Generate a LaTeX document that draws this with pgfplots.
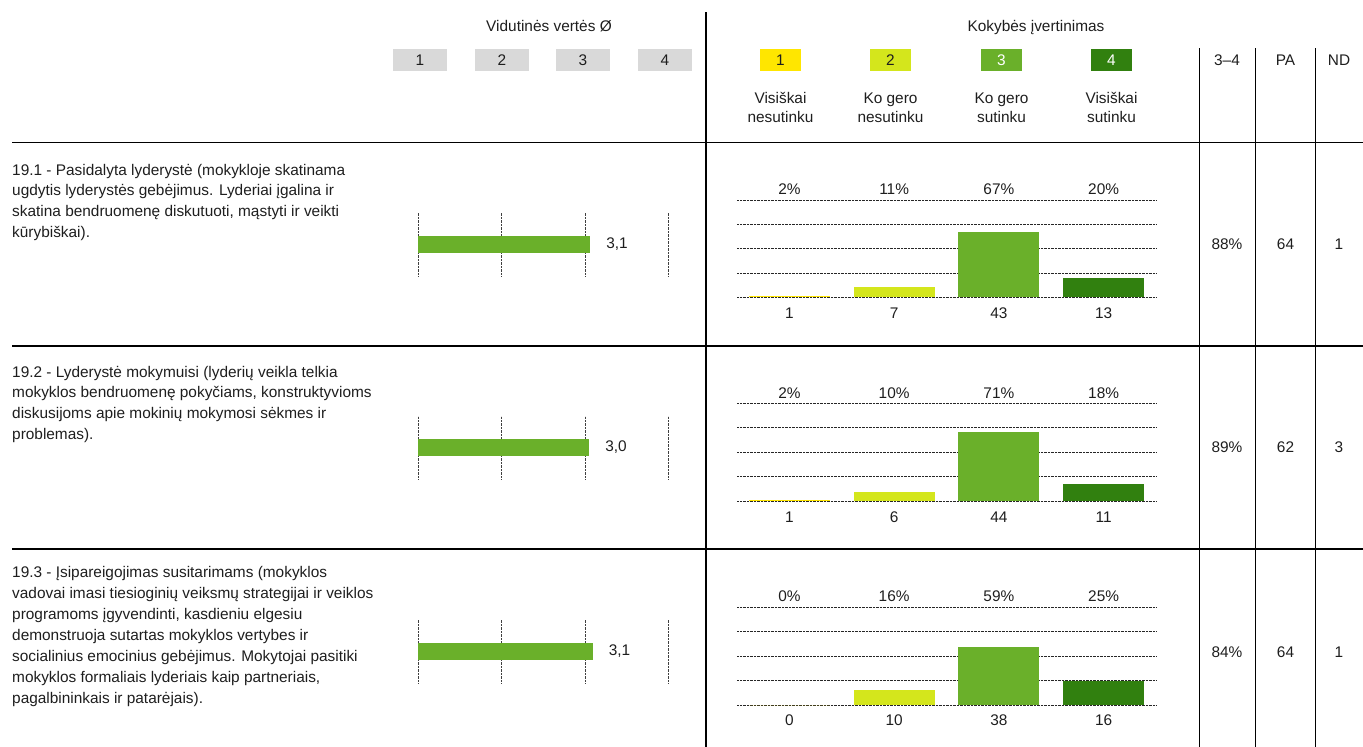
\documentclass[border=0pt]{standalone}
\usepackage{pgfplots}
\pgfplotsset{compat=1.18}
\usepackage{fontspec}
\setmainfont{Liberation Sans}
\definecolor{cA}{HTML}{FFE600}
\definecolor{cB}{HTML}{D4E61C}
\definecolor{cC}{HTML}{6AB02A}
\definecolor{cD}{HTML}{31800F}
\definecolor{gbox}{HTML}{D9D9D9}
\definecolor{txt}{HTML}{1E1E1E}
\newcommand\fnt{\fontsize{15.4}{20}\selectfont}
\newcommand\rowline[2]{\node[anchor=base west] at (12,#1) {#2};}
\pgfplotsset{
  meanax/.style={scale only axis, width=250.7pt, xmin=1, xmax=4, ymin=-1, ymax=1,
    axis line style={draw=none}, major tick length=0pt, xtick={1,2,3,4}, xticklabels={,,,}, ytick=\empty,
    xmajorgrids, major grid style={densely dotted, black!75, line width=0.9pt},
    /pgf/number format/fixed, /pgf/number format/fixed zerofill, /pgf/number format/precision=1,
    /pgf/number format/use comma, /pgf/number format/assume math mode=true},
  meanbar/.style={xbar, fill=cC, draw=none, bar width=17pt, bar shift=0pt,
    nodes near coords, nodes near coords style={anchor=west, xshift=16pt, font=\fnt, text=txt, inner sep=0pt}},
  freqax/.style={scale only axis, width=419pt, xmin=0.5, xmax=4.5, ymin=0, clip=false,
    axis line style={draw=none}, major tick length=0pt, xtick={1,2,3,4}, yticklabels={,,,,},
    ymajorgrids, major grid style={densely dotted, black!85, line width=0.8pt},
    xticklabel style={anchor=north, yshift=-10pt, font=\fnt, text=txt, inner sep=0pt}},
  fb/.style={ybar, bar width=81pt, bar shift=0pt, draw=none, fill=#1},
}
\begin{document}
\begin{tikzpicture}[x=1pt, y=-1pt, every node/.style={font=\fnt, text=txt, inner sep=0pt}]
\path (0,0) rectangle (1363,747);
% headers
\node[anchor=base] at (549,31) {Vidutinės vertės Ø};
\node[anchor=base] at (1036,31) {Kokybės įvertinimas};
\foreach \x/\n in {420/1,502/2,583/3,665/4}{
  \fill[gbox] (\x-27,49) rectangle (\x+27,71);
  \node at (\x,60) {\n};
}
\fill[cA] (760,49) rectangle (801,71); \node at (780.5,60) {1};
\fill[cB] (870,49) rectangle (911,71); \node at (890.5,60) {2};
\fill[cC] (981,49) rectangle (1022,71); \node[text=white] at (1001.5,60) {3};
\fill[cD] (1091,49) rectangle (1132,71); \node[text=white] at (1111.5,60) {4};
\node[anchor=base] at (780.5,103) {Visiškai};
\node[anchor=base] at (780.5,122.5) {nesutinku};
\node[anchor=base] at (890.5,103) {Ko gero};
\node[anchor=base] at (890.5,122.5) {nesutinku};
\node[anchor=base] at (1001.5,103) {Ko gero};
\node[anchor=base] at (1001.5,122.5) {sutinku};
\node[anchor=base] at (1111.5,103) {Visiškai};
\node[anchor=base] at (1111.5,122.5) {sutinku};
\node at (1227,60) {3–4};
\node at (1285.5,60) {PA};
\node at (1339,60) {ND};
% lines
\draw[line width=1.3pt] (706,12) -- (706,747);
\foreach \x in {1199.3,1255.3,1315.3}{\draw[line width=1.3pt] (\x,48) -- (\x,747);}
\foreach \y in {142.7,346,549}{\draw[line width=1.3pt] (12,\y) -- (1363,\y);}
% row texts
\rowline{175}{19.1 - Pasidalyta lyderystė (mokykloje skatinama}
\rowline{195.7}{ugdytis lyderystės gebėjimus. Lyderiai įgalina ir}
\rowline{216.4}{skatina bendruomenę diskutuoti, mąstyti ir veikti}
\rowline{237.1}{kūrybiškai).}
\rowline{377}{19.2 - Lyderystė mokymuisi (lyderių veikla telkia}
\rowline{397.7}{mokyklos bendruomenę pokyčiams, konstruktyvioms}
\rowline{418.4}{diskusijoms apie mokinių mokymosi sėkmes ir}
\rowline{439.1}{problemas).}
\rowline{577}{19.3 - Įsipareigojimas susitarimams (mokyklos}
\rowline{598}{vadovai imasi tiesioginių veiksmų strategijai ir veiklos}
\rowline{619}{programoms įgyvendinti, kasdieniu elgesiu}
\rowline{640}{demonstruoja sutartas mokyklos vertybes ir}
\rowline{661}{socialinius emocinius gebėjimus. Mokytojai pasitiki}
\rowline{682}{mokyklos formaliais lyderiais kaip partneriais,}
\rowline{703}{pagalbininkais ir patarėjais).}
% right columns
\foreach \y/\a/\b/\c in {244.3/88\%/64/1, 447.5/89\%/62/3, 651.7/84\%/64/1}{
  \node at (1227,\y) {\a};
  \node at (1285.5,\y) {\b};
  \node at (1339,\y) {\c};
}
% mean bars
\begin{axis}[meanax, at={(418pt,-276pt)}, anchor=south west, height=64pt]
\addplot[meanbar] coordinates {(3.06,0)};
\end{axis}
\begin{axis}[meanax, at={(418pt,-479pt)}, anchor=south west, height=63pt]
\addplot[meanbar] coordinates {(3.048,0)};
\end{axis}
\begin{axis}[meanax, at={(418pt,-683pt)}, anchor=south west, height=64pt]
\addplot[meanbar] coordinates {(3.09,0)};
\end{axis}
% frequency bars
\begin{axis}[freqax, at={(737pt,-297.3pt)}, anchor=south west, height=97.3pt, ymax=64, ytick distance=16, xticklabels={1,7,43,13}]
\addplot[fb=cA] coordinates {(1,1)};
\addplot[fb=cB] coordinates {(2,7)};
\addplot[fb=cC] coordinates {(3,43)};
\addplot[fb=cD] coordinates {(4,13)};
\foreach \i/\p in {1/2,2/11,3/67,4/20}{
  \edef\tmp{\noexpand\node[anchor=base, yshift=5.5pt] at (axis cs:\i,64) {\p\noexpand\%};}\tmp
}
\end{axis}
\begin{axis}[freqax, at={(737pt,-501.3pt)}, anchor=south west, height=98pt, ymax=62, ytick distance=15.5, xticklabels={1,6,44,11}]
\addplot[fb=cA] coordinates {(1,1)};
\addplot[fb=cB] coordinates {(2,6)};
\addplot[fb=cC] coordinates {(3,44)};
\addplot[fb=cD] coordinates {(4,11)};
\foreach \i/\p in {1/2,2/10,3/71,4/18}{
  \edef\tmp{\noexpand\node[anchor=base, yshift=5pt] at (axis cs:\i,62) {\p\noexpand\%};}\tmp
}
\end{axis}
\begin{axis}[freqax, at={(737pt,-705pt)}, anchor=south west, height=97.7pt, ymax=64, ytick distance=16, xticklabels={0,10,38,16}]
\addplot[fb=cA] coordinates {(1,0)};
\addplot[fb=cB] coordinates {(2,10)};
\addplot[fb=cC] coordinates {(3,38)};
\addplot[fb=cD] coordinates {(4,16)};
\foreach \i/\p in {1/0,2/16,3/59,4/25}{
  \edef\tmp{\noexpand\node[anchor=base, yshift=5.5pt] at (axis cs:\i,64) {\p\noexpand\%};}\tmp
}
\end{axis}
\pgfresetboundingbox
\useasboundingbox (0,0) rectangle (1363,747);
\end{tikzpicture}
\end{document}
